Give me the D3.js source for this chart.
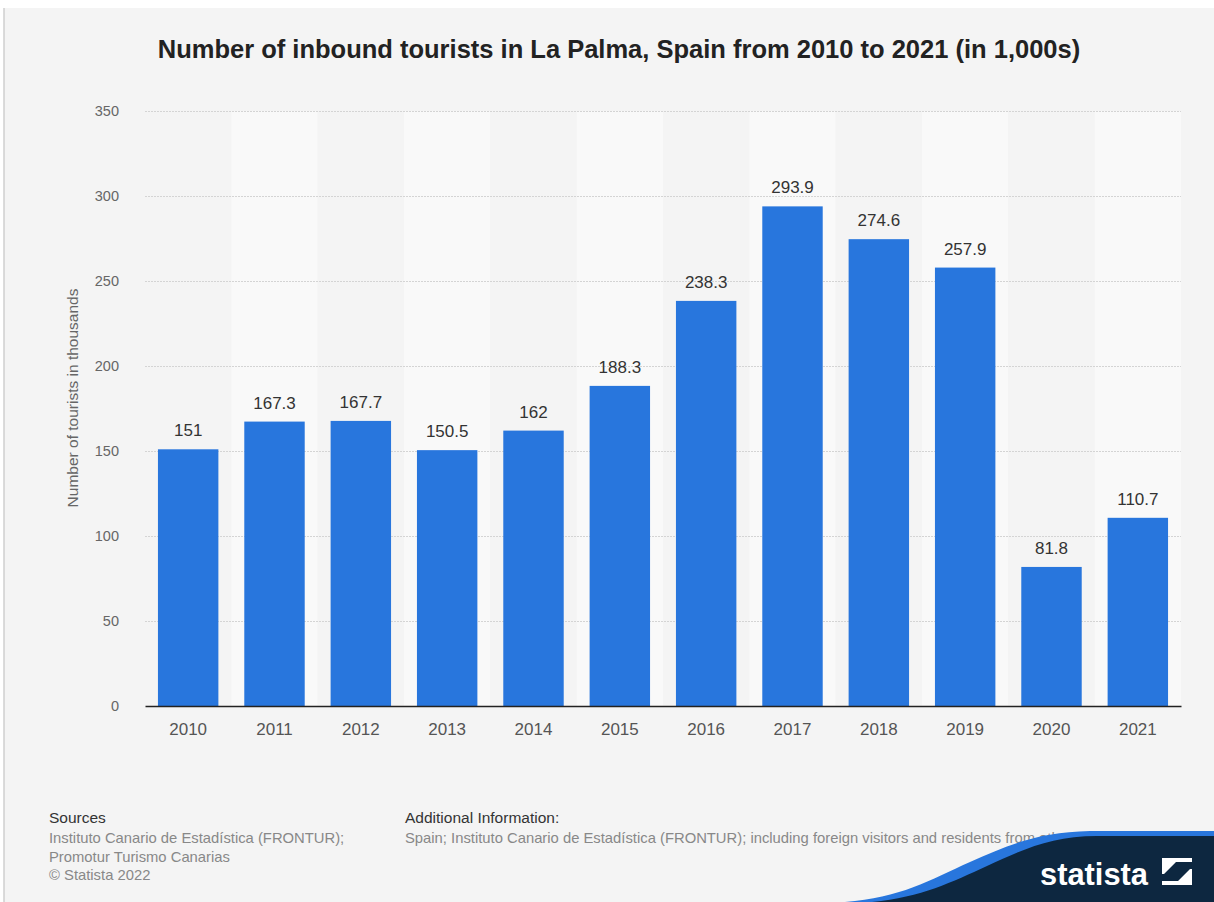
<!DOCTYPE html>
<html><head><meta charset="utf-8">
<script src="https://cdn.jsdelivr.net/npm/d3@7"></script>
<style>
html,body{margin:0;padding:0;background:#fff;}
svg{display:block;font-family:"Liberation Sans",Arial,Helvetica,sans-serif;}
</style></head>
<body>
<svg id="c" width="1214" height="902"></svg>
<script>
const years = ["2010","2011","2012","2013","2014","2015","2016","2017","2018","2019","2020","2021"];
const tourists = [151,167.3,167.7,150.5,162,188.3,238.3,293.9,274.6,257.9,81.8,110.7];
const yTicks = [0,50,100,150,200,250,300,350];
const valueLabels = ["151","167.3","167.7","150.5","162","188.3","238.3","293.9","274.6","257.9","81.8","110.7"];

(function(){
const svg = d3.select("#c");
svg.append("rect").attr("x",4).attr("y",8).attr("width",1210).attr("height",894).attr("fill","#f4f4f4");
svg.append("line").attr("x1",4).attr("x2",4).attr("y1",8).attr("y2",902).attr("stroke","#cfcfcf").attr("stroke-width",1.5);

const pL=145,pR=1181,pT=111,pB=706;
const x = d3.scaleBand().domain(years).range([pL,pR]).paddingInner(0.3).paddingOuter(0.15);
const xb = d3.scaleBand().domain(years).range([pL,pR]);
const y = d3.scaleLinear().domain([0,350]).range([pB,pT]);

svg.append("g").selectAll("rect").data(years).join("rect")
  .attr("x",d=>xb(d)).attr("y",pT).attr("width",xb.bandwidth()).attr("height",pB-pT)
  .attr("fill",(d,i)=> i%2? "#f9f9f9":"#f4f4f4");

svg.append("g").selectAll("line").data(yTicks.filter(t=>t>0)).join("line")
  .attr("x1",pL).attr("x2",pR).attr("y1",d=>y(d)+0.5).attr("y2",d=>y(d)+0.5)
  .attr("stroke","#d4d4d4").attr("stroke-width",1).attr("stroke-dasharray","2,1");

const yAxis = d3.axisLeft(y).tickValues(yTicks).tickSize(0).tickPadding(0);
const ga = svg.append("g").attr("transform",`translate(${pL-26},0)`).call(yAxis);
ga.select(".domain").remove();
ga.selectAll("text").attr("font-size","14.5px").attr("fill","#666").attr("font-family","Liberation Sans, Arial, sans-serif");

svg.append("g").selectAll("rect").data(tourists).join("rect")
  .attr("x",(d,i)=>x(years[i])).attr("width",x.bandwidth())
  .attr("y",d=>y(d)).attr("height",d=>pB-y(d))
  .attr("fill","#2876dd");

svg.append("g").selectAll("text").data(tourists).join("text")
  .attr("x",(d,i)=>x(years[i])+x.bandwidth()/2).attr("y",d=>y(d)-13)
  .attr("text-anchor","middle").attr("font-size","17px").attr("fill","#333")
  .text((d,i)=>valueLabels[i]);

const xAxis = d3.axisBottom(xb).tickSize(0).tickPadding(17);
const gx = svg.append("g").attr("transform",`translate(0,${pB})`).call(xAxis);
gx.select(".domain").attr("stroke","#222").attr("stroke-width",1.5);
gx.selectAll("text").attr("font-size","17px").attr("fill","#555").attr("font-family","Liberation Sans, Arial, sans-serif");

svg.append("text").attr("transform","translate(78,398) rotate(-90)")
  .attr("text-anchor","middle").attr("font-size","15.5px").attr("fill","#666")
  .text("Number of tourists in thousands");

svg.append("text").attr("x",619).attr("y",58).attr("text-anchor","middle")
  .attr("font-size","25.5px").attr("font-weight","bold").attr("fill","#222")
  .text("Number of inbound tourists in La Palma, Spain from 2010 to 2021 (in 1,000s)");

svg.append("text").attr("x",49).attr("y",823).attr("font-size","15.5px").attr("fill","#333").text("Sources");
const src = ["Instituto Canario de Estadística (FRONTUR);","Promotur Turismo Canarias","© Statista 2022"];
svg.append("g").selectAll("text").data(src).join("text")
  .attr("x",49).attr("y",(d,i)=>843+i*18.5).attr("font-size","14.8px").attr("fill","#888").text(d=>d);
svg.append("text").attr("x",405).attr("y",823).attr("font-size","15.5px").attr("fill","#333").text("Additional Information:");
svg.append("text").attr("x",405).attr("y",843).attr("font-size","14.8px").attr("fill","#888")
  .text("Spain; Instituto Canario de Estadística (FRONTUR); including foreign visitors and residents from other regions of Spain");

const shape = "M845,902 C900,898 930,880 970,862 C1010,844 1040,832 1090,831 L1214,831 L1214,902 Z";
svg.append("path").attr("d",shape).attr("fill","#2876dd");
const shape2 = "M872,902 C922,897 952,882 987,866 C1024,849 1052,836 1097,836 L1214,836 L1214,902 Z";
svg.append("path").attr("d",shape2).attr("fill","#0d2740");
svg.append("text").attr("x",1040).attr("y",885).attr("font-size","32px").attr("font-weight","bold")
  .attr("textLength",108).attr("lengthAdjust","spacingAndGlyphs")
  .attr("fill","#fff").text("statista");
const ic = svg.append("g").attr("transform","translate(1162,858)");
ic.append("path").attr("d","M0,0 L30,0 L30,4 L14,4 L2,16 L0,16 Z M30,27 L0,27 L0,23 L16,23 L28,11 L30,11 Z").attr("fill","#fff");
})();
</script>
</body></html>
